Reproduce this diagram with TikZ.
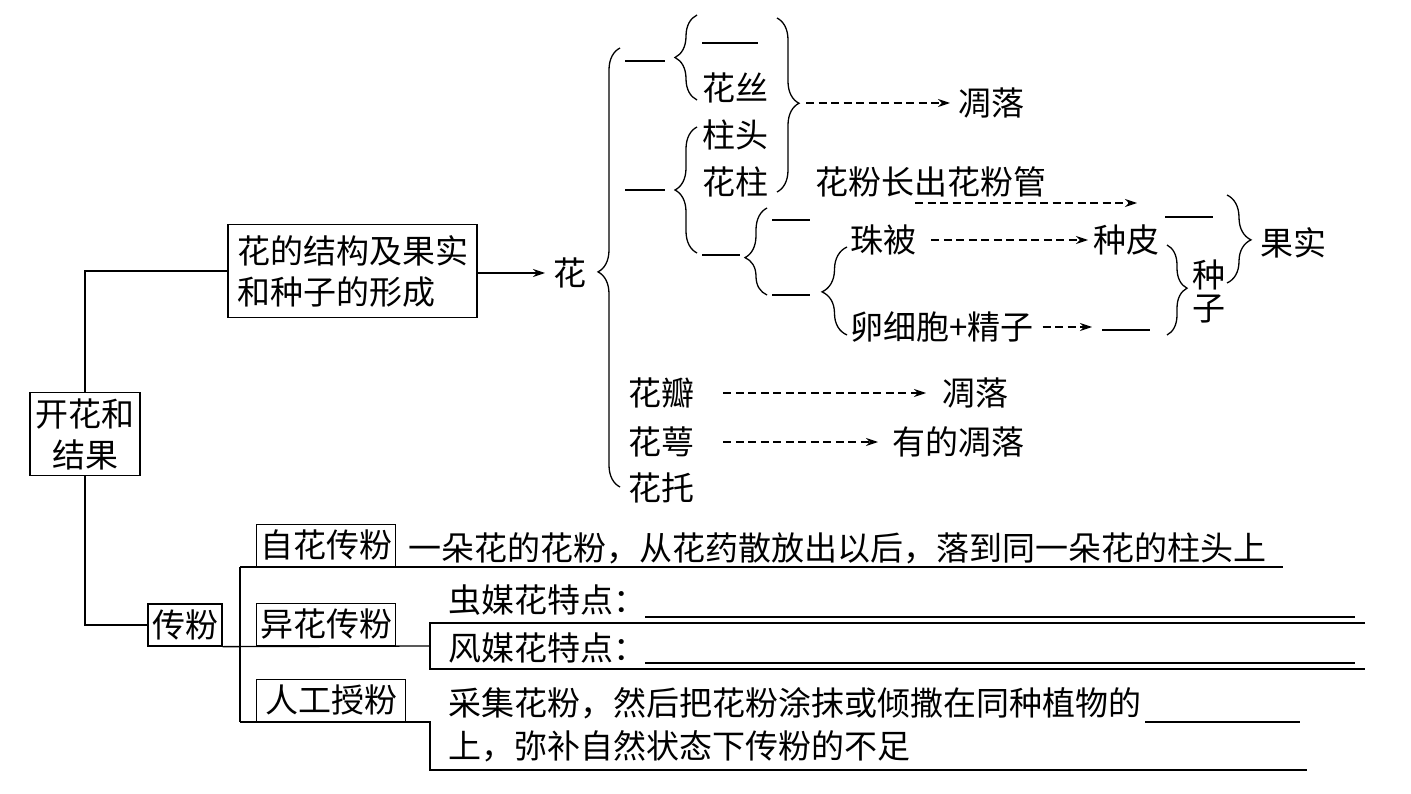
\documentclass[tikz,border=0pt]{standalone}
\usepackage{fontspec}
\setmainfont{Noto Sans CJK SC}
\usetikzlibrary{arrows.meta,decorations.pathreplacing}
\begin{document}
\begin{tikzpicture}[x=1pt,y=-1pt, line width=1.3pt,
  txt/.style={inner sep=0pt, anchor=west, font=\fontsize{33}{33}\selectfont},
  bx/.style={draw, inner sep=0pt, font=\fontsize{33}{41}\selectfont, align=center},
  dsh/.style={dash pattern=on 8pt off 4.5pt, -{Stealth[length=12pt,width=8pt]}},
  arr/.style={-{Stealth[length=12pt,width=8pt]}},
  blank/.style={line width=1.2pt}
]
\useasboundingbox (0,0) rectangle (1411,794);

% ---------- left boxes ----------
\node[bx, minimum width=110pt, minimum height=83pt] (root) at (85,434) {开花和\\结果};
\node[bx, align=left, minimum width=249pt, minimum height=93pt] (struct) at (352.5,271) {花的结构及果实\\和种子的形成};
\node[txt] (hua) at (553,273) {花};
\draw (root.north) |- (struct.west);
\draw[arr, shorten >=8pt] (struct.east |- hua.west) -- (hua.west);

% ---------- big brace of flower ----------
\draw[decorate, decoration={brace, amplitude=22pt, aspect=0.49}] (620,487) -- (620,48);
\draw[blank] (625,61) -- (665,61);
\draw[blank] (625,190) -- (665,190);
\node[txt] (hb) at (628,393) {花瓣};
\node[txt] (he) at (628,442) {花萼};
\node[txt] (ht) at (628,488) {花托};
\node[txt] (dl2) at (942,393) {凋落};
\node[txt] (dl3) at (892,442) {有的凋落};
\draw[dsh, shorten <=28pt, shorten >=16pt] (hb.east) -- (dl2.west);
\draw[dsh, shorten <=28pt, shorten >=14pt] (he.east) -- (dl3.west);

% stamen
\draw[decorate, decoration={brace, amplitude=22pt, aspect=0.5}] (697,100) -- (697,15);
\draw[blank] (702,43) -- (758,43);
\node[txt] (hs) at (702,88) {花丝};

% right brace -> wither
\draw[decorate, decoration={brace, amplitude=22pt, aspect=0.49}] (777,18) -- (777,192);
\node[txt] (dl1) at (958,103) {凋落};
\coordinate (rb) at (806,103);
\draw[dsh, shorten >=8pt] (rb) -- (dl1.west);

% pistil
\draw[decorate, decoration={brace, amplitude=22pt, aspect=0.5}] (697,253) -- (697,127);
\node[txt] (zt) at (702,135) {柱头};
\node[txt] (hz) at (702,182) {花柱};
\draw[blank] (702,255) -- (740,255);

% ovary
\draw[decorate, decoration={brace, amplitude=22pt, aspect=0.43}] (767,295) -- (767,208);
\draw[blank] (772,220) -- (810,220);
\draw[blank] (772,295) -- (810,295);

\node[txt] (hfg) at (815,182) {花粉长出花粉管};
\coordinate (p1) at (915,203);
\coordinate (p2) at (1137,203);
\draw[dsh] (p1) -- (p2);

% ovule
\draw[decorate, decoration={brace, amplitude=25pt, aspect=0.49}] (847,335) -- (847,247);
\node[txt] (zb) at (850,240) {珠被};
\node[txt] (lx) at (850,327) {卵细胞+精子};
\node[txt] (zp) at (1093,240) {种皮};
\draw[dsh, shorten <=14pt, shorten >=5pt] (zb.east) -- (zp.west);
\coordinate (lxa) at (1092,327);
\draw[dsh, shorten <=8pt] (lx.east) -- (lxa);
\draw[blank] (1102,330) -- (1150,330);
\draw[blank] (1165,217) -- (1213,217);

% seed / fruit
\draw[decorate, decoration={brace, amplitude=20pt, aspect=0.48}] (1167,245) -- (1167,335);
\node[inner sep=0pt, align=center, font=\fontsize{33}{33}\selectfont] (zz) at (1209,291) {种\\子};
\draw[decorate, decoration={brace, amplitude=24pt, aspect=0.51}] (1227,195) -- (1227,283);
\node[txt] (gs) at (1260,243) {果实};

% ---------- pollination ----------
\node[bx, minimum width=74pt, minimum height=42pt] (cf) at (185,625) {传粉};
\draw (root.south) |- (cf.west);
\node[bx, minimum width=139pt, minimum height=42pt, anchor=south west] (zh) at (256,567) {自花传粉};
\node[bx, minimum width=139pt, minimum height=42pt, anchor=south west] (yh) at (256,646) {异花传粉};
\node[bx, minimum width=149pt, minimum height=42pt, anchor=south west] (rg) at (256,722) {人工授粉};

\coordinate (v1) at (240,567);
\coordinate (v3) at (240,722);
\coordinate (zend) at (1283,567);
\draw (v1) -- (v3);
\draw (v1) -- (zend);
\coordinate (b1) at (430,646);
\draw (cf.south east) -- (b1);
\coordinate (bt1) at (1365,623);
\coordinate (bt2) at (430,623);
\coordinate (bt3) at (430,669);
\coordinate (bt4) at (1365,669);
\draw (bt1) -- (bt2) -- (bt3) -- (bt4);
\coordinate (r1) at (430,722);
\coordinate (r2) at (430,770);
\coordinate (r3) at (1307,770);
\draw (v3) -- (r1) -- (r2) -- (r3);

\draw[blank] (645,617) -- (1355,617);
\draw[blank] (645,663) -- (1355,663);
\draw[blank] (1145,722) -- (1300,722);

\node[txt] (t1) at (408,548) {一朵花的花粉，从花药散放出以后，落到同一朵花的柱头上};
\node[txt] (t2) at (448,600) {虫媒花特点：};
\node[txt] (t3) at (448,648) {风媒花特点：};
\node[txt] (t4) at (448,703) {采集花粉，然后把花粉涂抹或倾撒在同种植物的};
\node[txt] (t5) at (448,746) {上，弥补自然状态下传粉的不足};
\end{tikzpicture}
\end{document}
